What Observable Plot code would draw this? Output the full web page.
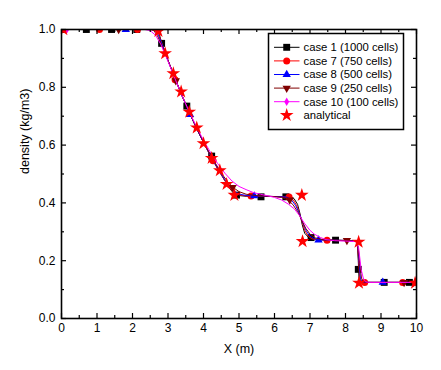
<!DOCTYPE html>
<html><head><meta charset="utf-8">
<script src="https://cdn.jsdelivr.net/npm/d3@7"></script>
<script src="https://cdn.jsdelivr.net/npm/@observablehq/plot@0.6"></script>
<style>
body{margin:0;background:#fff;}
#chart{position:relative;width:441px;height:370px;}
</style></head><body><div id="chart"></div>
<script>
// ---- tick values / labels ----
const xMajor = [0,1,2,3,4,5,6,7,8,9,10];
const xTickLabels = ["0","1","2","3","4","5","6","7","8","9","10"];
const xMinor = [0.5,1.5,2.5,3.5,4.5,5.5,6.5,7.5,8.5,9.5];
const yMajor = [0,0.2,0.4,0.6,0.8,1.0];
const yTickLabels = ["0.0","0.2","0.4","0.6","0.8","1.0"];
const yMinor = [0.1,0.3,0.5,0.7,0.9];

// ---- series names ----
const seriesNames = ["case 1 (1000 cells)","case 7 (750 cells)","case 8 (500 cells)","case 9 (250 cells)","case 10 (100 cells)","analytical"];
const seriesColors = ["#000000","#ff0000","#0000ff","#800000","#ff00ff","#ff0000"];

// ---- case 1 (1000 cells) ----
const case1X = [0,2.6,2.68,2.75,2.82,3.0,3.2,3.4,3.53,3.6,3.8,4.0,4.2,4.4,4.6,4.75,4.85,4.95,5.2,6.0,6.45,6.55,6.65,6.72,6.78,6.85,6.95,7.03,7.2,7.7,8.3,8.33,8.36,8.38,8.42,8.6,10];
const case1Y = [1,1,0.998,0.985,0.955,0.893,0.83,0.769,0.735,0.713,0.659,0.609,0.562,0.518,0.477,0.448,0.433,0.426,0.423,0.422,0.421,0.415,0.395,0.362,0.325,0.295,0.282,0.279,0.273,0.271,0.269,0.262,0.2,0.14,0.126,0.125,0.125];
const case1MX = [0,0.7,1.41,2.12,2.82,3.53,4.23,4.93,5.62,6.32,7.03,7.72,8.36,9.09,9.8];
const case1MY = [1,1,1,1,0.952,0.735,0.562,0.427,0.421,0.421,0.28,0.271,0.17,0.125,0.125];

// ---- case 7 (750 cells) ----
const case7X = [0,2.58,2.66,2.74,2.82,3.0,3.2,3.4,3.6,3.8,4.0,4.2,4.4,4.6,4.75,4.87,5.0,5.2,6.0,6.4,6.52,6.62,6.7,6.78,6.86,6.95,7.05,7.2,7.7,8.3,8.34,8.37,8.4,8.44,8.6,10];
const case7Y = [1,1,0.997,0.983,0.955,0.893,0.83,0.769,0.713,0.659,0.609,0.562,0.518,0.478,0.45,0.435,0.428,0.424,0.422,0.42,0.412,0.392,0.366,0.333,0.303,0.285,0.276,0.272,0.271,0.269,0.255,0.2,0.14,0.127,0.125,0.125];
const case7MX = [0,1.07,2.14,3.2,4.27,5.34,6.41,7.48,8.54,9.61];
const case7MY = [1,1,1,0.826,0.546,0.424,0.42,0.271,0.125,0.125];

// ---- case 8 (500 cells) ----
const case8X = [0,2.55,2.64,2.73,2.82,3.0,3.2,3.4,3.6,3.8,4.0,4.2,4.4,4.6,4.75,4.9,5.05,5.25,6.0,6.35,6.48,6.6,6.7,6.8,6.9,7.0,7.12,7.3,7.7,8.3,8.35,8.38,8.42,8.46,8.6,10];
const case8Y = [1,1,0.996,0.98,0.953,0.893,0.83,0.769,0.713,0.659,0.609,0.563,0.52,0.48,0.453,0.437,0.429,0.425,0.422,0.42,0.41,0.39,0.363,0.33,0.302,0.285,0.276,0.272,0.271,0.269,0.25,0.2,0.14,0.127,0.125,0.125];
const case8MX = [0,1.81,3.62,5.43,7.24,9.05];
const case8MY = [1,1,0.706,0.424,0.271,0.125];

// ---- case 9 (250 cells) ----
const case9X = [0,2.5,2.6,2.7,2.8,3.0,3.2,3.4,3.6,3.8,4.0,4.2,4.4,4.55,4.7,4.85,5.0,5.2,5.5,6.0,6.2,6.38,6.52,6.65,6.76,6.88,7.0,7.15,7.4,7.8,8.3,8.36,8.4,8.45,8.5,8.6,10];
const case9Y = [1,1,0.996,0.979,0.952,0.893,0.831,0.77,0.714,0.661,0.611,0.565,0.524,0.495,0.47,0.452,0.439,0.43,0.425,0.422,0.419,0.41,0.394,0.37,0.342,0.312,0.292,0.279,0.272,0.27,0.268,0.245,0.19,0.14,0.127,0.125,0.125];
const case9MX = [0,1.61,3.22,4.82,6.43,8.04,9.65];
const case9MY = [1,1,0.823,0.454,0.41,0.27,0.125];

// ---- case 10 (100 cells) ----
const case10X = [0,2.35,2.5,2.65,2.8,3.0,3.2,3.4,3.6,3.8,4.0,4.2,4.4,4.6,4.8,5.0,5.2,5.4,5.6,5.8,6.0,6.2,6.4,6.56,6.7,6.84,7.0,7.12,7.3,7.45,7.7,8.0,8.3,8.37,8.44,8.5,8.56,8.65,10];
const case10Y = [1,1,0.996,0.98,0.948,0.89,0.829,0.77,0.715,0.664,0.617,0.574,0.536,0.503,0.476,0.457,0.446,0.436,0.43,0.425,0.419,0.41,0.395,0.379,0.357,0.33,0.305,0.292,0.28,0.273,0.269,0.268,0.266,0.245,0.17,0.14,0.127,0.125,0.125];
const case10MX = [0.15];
const case10MY = [1];

// ---- analytical (stars) ----
const anaX = [0.05,2.73,2.92,3.15,3.37,3.6,3.81,4.0,4.23,4.46,4.65,4.87,6.77,6.79,8.37,8.38,9.96];
const anaY = [1.0,0.994,0.917,0.848,0.785,0.715,0.66,0.606,0.555,0.512,0.465,0.427,0.427,0.267,0.265,0.123,0.123];

// ---- build tables ----
const zip = (xs, ys) => xs.map((x, i) => ({x, y: ys[i]}));
const lines = [zip(case1X,case1Y), zip(case7X,case7Y), zip(case8X,case8Y), zip(case9X,case9Y), zip(case10X,case10Y)];
const markers = [zip(case1MX,case1MY), zip(case7MX,case7MY), zip(case8MX,case8MY), zip(case9MX,case9MY), zip(case10MX,case10MY)];
const stars = zip(anaX, anaY);

const triDown = {draw(ctx, size){ const s = Math.sqrt(size/(Math.sqrt(3)/4)); const h = s*Math.sqrt(3)/2;
  ctx.moveTo(0, h*2/3); ctx.lineTo(s/2, -h/3); ctx.lineTo(-s/2, -h/3); ctx.closePath(); }};
const symbols = ["square","circle","triangle",triDown,"diamond","star"];
const d3symbols = [d3.symbolSquare, d3.symbolCircle, d3.symbolTriangle, triDown, d3.symbolDiamond, d3.symbolStar];
const radii = [3.9, 3.5, 3.1, 3.1, 2.6, 4.3];

const W = 441, H = 370, mL = 61, mR = 25, mT = 29, mB = 52;
const fW = W - mL - mR, fH = H - mT - mB;
const majorLen = 5, minorLen = 3;

const marks = [];
lines.forEach((data, i) => {
  marks.push(Plot.line(data, {x: "x", y: "y", stroke: seriesColors[i], strokeWidth: 1, clip: true}));
  marks.push(Plot.dot(markers[i], {x: "x", y: "y", symbol: symbols[i], r: radii[i], fill: seriesColors[i], stroke: "none", clip: true}));
});
marks.push(Plot.dot(stars, {x: "x", y: "y", symbol: "star", r: radii[5], fill: seriesColors[5], stroke: "none", clip: true}));

const tk = {stroke: "#000", strokeWidth: 1.2};
marks.push(
  Plot.tickX(xMajor, {x: d => d, insetTop: fH - majorLen, ...tk}),
  Plot.tickX(xMajor, {x: d => d, insetBottom: fH - majorLen, ...tk}),
  Plot.tickX(xMinor, {x: d => d, insetTop: fH - minorLen, ...tk}),
  Plot.tickX(xMinor, {x: d => d, insetBottom: fH - minorLen, ...tk}),
  Plot.tickY(yMajor, {y: d => d, insetRight: fW - majorLen, ...tk}),
  Plot.tickY(yMajor, {y: d => d, insetLeft: fW - majorLen, ...tk}),
  Plot.tickY(yMinor, {y: d => d, insetRight: fW - minorLen, ...tk}),
  Plot.tickY(yMinor, {y: d => d, insetLeft: fW - minorLen, ...tk}),
  Plot.frame({stroke: "#000", strokeWidth: 1.6}),
  Plot.axisX({ticks: xMajor, tickSize: 0, tickPadding: 5, tickFormat: d => xTickLabels[xMajor.indexOf(d)], label: null, fontSize: 12}),
  Plot.axisY({ticks: yMajor, tickSize: 0, tickPadding: 6, tickFormat: d => yTickLabels[yMajor.indexOf(d)], label: null, fontSize: 12}),
  Plot.text(["density (kg/m3)"], {frameAnchor: "left", dx: -37, rotate: -90, fontSize: 12.5, fill: "#000"}),
  Plot.text(["X (m)"], {frameAnchor: "bottom", dy: 34, fontSize: 12.5, fill: "#000"})
);

const chart = Plot.plot({
  width: W, height: H,
  marginLeft: mL, marginRight: mR, marginTop: mT, marginBottom: mB,
  x: {domain: [0, 10]},
  y: {domain: [0, 1.0]},
  style: {fontFamily: "'Liberation Sans', Arial, sans-serif", fontSize: "12px", background: "#fff", color: "#000"},
  marks
});
document.getElementById("chart").appendChild(chart);

// ---- legend ----
const svg = d3.select(chart);
const lg = svg.append("g").attr("font-family", "'Liberation Sans', Arial, sans-serif").attr("font-size", "11.3px").attr("text-anchor", "start");
lg.append("rect").attr("x", 268.5).attr("y", 33.5).attr("width", 135).attr("height", 96)
  .attr("fill", "#fff").attr("stroke", "#000").attr("stroke-width", 1.5);
seriesNames.forEach((name, i) => {
  const cy = 47.3 + 13.6 * i;
  if (i < 5) lg.append("line").attr("x1", 274).attr("x2", 299.5).attr("y1", cy).attr("y2", cy)
      .attr("stroke", seriesColors[i]).attr("stroke-width", 1);
  const size = Math.PI * radii[i] * radii[i];
  lg.append("path").attr("d", d3.symbol().type(d3symbols[i]).size(size)())
    .attr("transform", `translate(286.7,${cy})`).attr("fill", seriesColors[i]);
  lg.append("text").attr("x", 303.5).attr("y", cy).attr("dy", "0.35em").attr("text-anchor", "start").attr("fill", "#000").text(name);
});
</script></body></html>
